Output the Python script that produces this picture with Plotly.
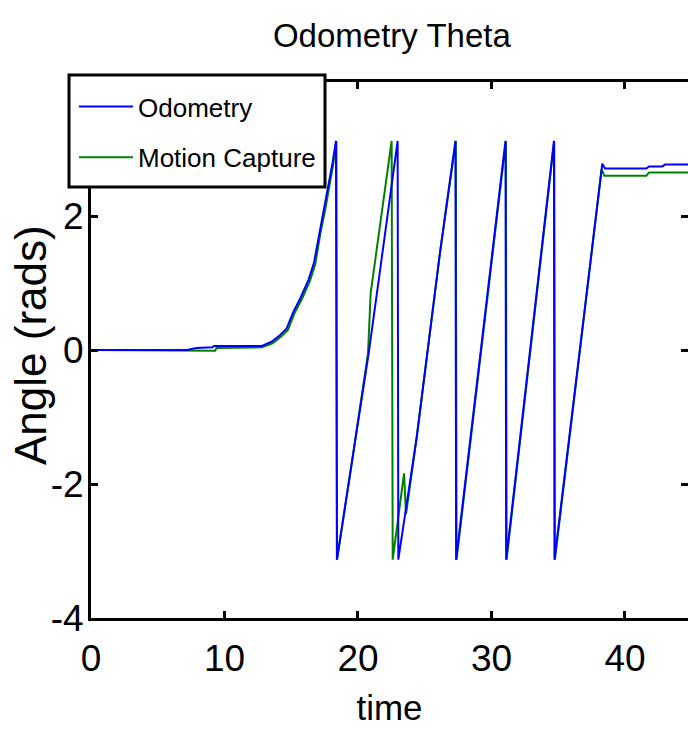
import plotly.graph_objects as go

# Heading angle (rad) against time (s) for the two sources
odo_t = [0, 7.2, 7.9, 9.1, 9.2, 12.8, 13.5, 14.15, 14.65, 15.16, 15.7, 16.3, 16.7,
         17.15, 17.5, 17.8, 18.1, 18.35,
         18.42, 19.6, 20.8, 21.9, 22.97,
         23.02, 24.4, 26.14, 27.3,
         27.35, 31.05,
         31.1, 34.68,
         34.72, 38.3, 38.5, 41.6, 41.8, 42.8, 43.0, 45.0]
odo_theta = [0, 0, 0.03, 0.04, 0.06, 0.06, 0.12, 0.22, 0.32, 0.57, 0.78, 1.05, 1.30,
             1.78, 2.12, 2.45, 2.80, 3.12,
             -3.13, -1.6, -0.05, 1.55, 3.12,
             -3.13, -1.3, 1.45, 3.12,
             -3.13, 3.12,
             -3.13, 3.12,
             -3.13, 2.78, 2.71, 2.71, 2.74, 2.74, 2.77, 2.77]

mocap_t = [0, 7.2, 7.5, 9.3, 9.4, 12.8, 13.6, 14.25, 14.75, 15.25, 15.8, 16.4, 16.8,
           17.2, 17.55, 17.85, 18.15, 18.38,
           18.43, 19.6, 20.75, 20.95, 22.52,
           22.6, 23.45, 23.6, 24.4, 26.14, 27.33,
           27.38, 31.08,
           31.13, 34.7,
           34.75, 38.25, 38.45, 41.6, 41.8, 45.0]
mocap_theta = [0, 0, -0.01, -0.01, 0.03, 0.04, 0.10, 0.20, 0.30, 0.55, 0.76, 1.03, 1.28,
               1.76, 2.10, 2.43, 2.78, 3.12,
               -3.13, -1.6, -0.05, 0.85, 3.12,
               -3.13, -1.84, -2.45, -1.3, 1.45, 3.12,
               -3.13, 3.12,
               -3.13, 3.12,
               -3.13, 2.70, 2.60, 2.60, 2.65, 2.65]

x_ticks = [0, 10, 20, 30, 40]
y_ticks = [-4, -2, 0, 2]
y_tick_text = ["-4", "-2", "0", "2"]

TEXT_FONT = "Liberation Sans, Arial, sans-serif"

W, H = 688, 729
L, R, T, B = 91, 0, 82, 111
PW, PH = W - L - R, H - T - B


def px_x(p):
    """pixel column -> paper x"""
    return (p - L) / PW


def px_y(p):
    """pixel row -> paper y"""
    return (H - B - p) / PH


fig = go.Figure()
# motion capture first so the odometry trace sits on top
fig.add_trace(go.Scatter(x=mocap_t, y=mocap_theta, mode="lines", name="Motion Capture",
                         legendgroup="mocap", legendrank=2,
                         line=dict(color="#008000", width=2)))
fig.add_trace(go.Scatter(x=odo_t, y=odo_theta, mode="lines", name="Odometry",
                         legendgroup="odo", legendrank=1, yaxis="y2",
                         line=dict(color="#0000ff", width=2)))

axis_common = dict(showgrid=False, zeroline=False, ticks="inside", ticklen=7,
                   tickwidth=2.5, tickcolor="black", linecolor="black", linewidth=3)

fig.update_layout(
    width=W, height=H,
    margin=dict(l=L, r=R, t=T, b=B, pad=0, autoexpand=False),
    paper_bgcolor="white", plot_bgcolor="white",
    title=dict(text="Odometry Theta", x=0.504, xref="paper", xanchor="center",
               y=1 - 35 / H, yref="container", yanchor="middle",
               font=dict(family=TEXT_FONT, size=33, color="black")),
    xaxis=dict(range=[0, 44.72], tickvals=x_ticks, showline=True, mirror="ticks",
               tickfont=dict(family=TEXT_FONT, size=37, color="black"),
               ticklabelstandoff=6,
               title=dict(text="time", font=dict(family=TEXT_FONT, size=35, color="black"),
                          standoff=18),
               **axis_common),
    yaxis=dict(range=[-4, 4], tickvals=y_ticks, ticktext=y_tick_text, showline=True,
               mirror=False, ticklabelstandoff=-3,
               tickfont=dict(family=TEXT_FONT, size=37, color="black"),
               **axis_common),
    yaxis2=dict(range=[-4, 4], tickvals=y_ticks, overlaying="y", side="right",
                showline=False, showticklabels=False, showgrid=False, zeroline=False,
                ticks="inside", ticklen=7, tickwidth=2.5, tickcolor="black"),
    legend=dict(x=74 / W, y=1 - 83 / H, xref="container", yref="container",
                xanchor="left", yanchor="top", traceorder="grouped",
                tracegroupgap=14, itemwidth=54,
                bgcolor="rgba(0,0,0,0)", borderwidth=0,
                font=dict(family=TEXT_FONT, size=26, color="black")),
    shapes=[dict(type="rect", xref="paper", yref="paper",
                 x0=px_x(69), x1=px_x(325), y0=px_y(187), y1=px_y(75),
                 line=dict(color="black", width=3), fillcolor="white", layer="above")],
    annotations=[dict(text="Angle (rads)", textangle=-90, xref="paper", yref="paper",
                      x=px_x(31), y=px_y(345), xanchor="center",
                      yanchor="middle", showarrow=False,
                      font=dict(family=TEXT_FONT, size=44, color="black"))],
)

fig.write_html("out.html")
